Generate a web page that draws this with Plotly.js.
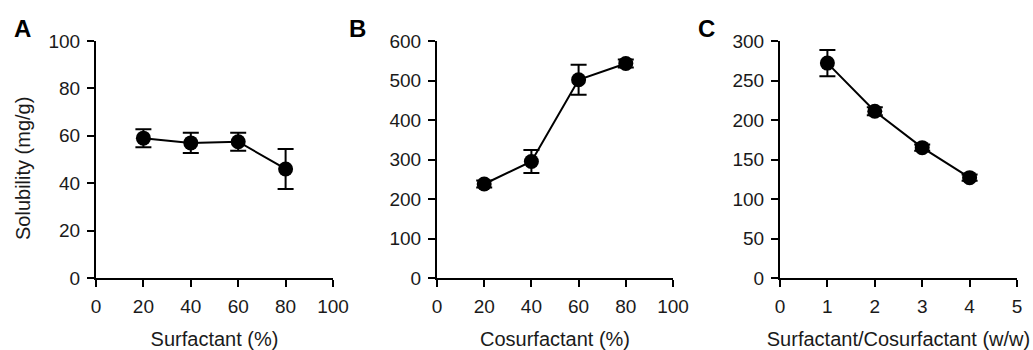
<!DOCTYPE html>
<html>
<head>
<meta charset="utf-8">
<script src="https://cdn.plot.ly/plotly-3.0.1.min.js"></script>
<style>html,body{margin:0;padding:0;background:#fff;}#chart{width:1033px;height:350px;}</style>
</head>
<body>
<div id="chart"></div>
<script>
// Panel A: Surfactant (%)
const surfactantPct = [20, 40, 60, 80];
const solubilityA = [59, 57, 57.5, 46];
const errA = [3.8, 4.3, 3.8, 8.4];
// Panel B: Cosurfactant (%)
const cosurfactantPct = [20, 40, 60, 80];
const solubilityB = [238, 295, 502, 543];
const errB = [9, 29, 38, 10];
// Panel C: Surfactant/Cosurfactant ratio
const ratioSC = [1, 2, 3, 4];
const solubilityC = [272, 211, 165, 127];
const errC = [16.5, 5, 4, 4];

const panelLabels = ['A', 'B', 'C'];
const xTitles = ['Surfactant (%)', 'Cosurfactant (%)', 'Surfactant/Cosurfactant (w/w)'];
const yTitle = 'Solubility (mg/g)';

const FONT = 'Liberation Sans, Arial, sans-serif';

function trace(x, y, e, xa, ya) {
  return {
    x: x, y: y, xaxis: xa, yaxis: ya, type: 'scatter', mode: 'lines+markers',
    line: {color: '#000', width: 2},
    marker: {color: '#000', size: 15, symbol: 'circle'},
    error_y: {type: 'data', array: e, visible: true, color: '#000', thickness: 2, width: 8},
    showlegend: false
  };
}

const data = [
  trace(surfactantPct, solubilityA, errA, 'x', 'y'),
  trace(cosurfactantPct, solubilityB, errB, 'x2', 'y2'),
  trace(ratioSC, solubilityC, errC, 'x3', 'y3')
];

const yDom = [72/350, 309/350];
function xax(dom, range, dtick, title, anchor) {
  return {
    domain: dom, range: range, dtick: dtick, tick0: 0, anchor: anchor,
    showline: true, linecolor: '#000', linewidth: 2, mirror: false,
    ticks: 'outside', ticklen: 7, tickwidth: 2, tickcolor: '#000',
    ticklabelstandoff: 3,
    showgrid: false, zeroline: false,
    tickfont: {family: FONT, size: 19, color: '#1a1a1a'},
    title: {text: title, font: {family: FONT, size: 20, color: '#1a1a1a'}, standoff: 17},
    fixedrange: true
  };
}
function yax(range, dtick, anchor) {
  return {
    domain: yDom, range: range, dtick: dtick, tick0: 0, anchor: anchor,
    showline: true, linecolor: '#000', linewidth: 2,
    ticks: 'outside', ticklen: 7, tickwidth: 2, tickcolor: '#000',
    ticklabelstandoff: 3,
    showgrid: false, zeroline: false,
    tickfont: {family: FONT, size: 19, color: '#1a1a1a'},
    fixedrange: true
  };
}

function label(text, px, py, size, color, bold) {
  return {
    text: bold ? '<b>' + text + '</b>' : text,
    x: px / 1033, y: 1 - py / 350, xref: 'paper', yref: 'paper',
    xanchor: 'center', yanchor: 'middle', showarrow: false,
    font: {family: FONT, size: size, color: color}
  };
}

const yTitleAnn = label(yTitle, 23, 169, 20, '#1a1a1a', false);
yTitleAnn.textangle = -90;

const layout = {
  width: 1033, height: 350,
  margin: {l: 0, r: 0, t: 0, b: 0},
  paper_bgcolor: '#fff', plot_bgcolor: '#fff',
  xaxis: xax([96/1033, 333/1033], [0, 100], 20, xTitles[0], 'y'),
  yaxis: yax([0, 100], 20, 'x'),
  xaxis2: xax([437/1033, 673/1033], [0, 100], 20, xTitles[1], 'y2'),
  yaxis2: yax([0, 600], 100, 'x2'),
  xaxis3: xax([780/1033, 1017/1033], [0, 5], 1, xTitles[2], 'y3'),
  yaxis3: yax([0, 300], 50, 'x3'),
  annotations: [
    yTitleAnn,
    label(panelLabels[0], 22, 29, 24, '#000', true),
    label(panelLabels[1], 357, 29, 24, '#000', true),
    label(panelLabels[2], 706, 29, 24, '#000', true)
  ]
};

Plotly.newPlot('chart', data, layout, {displayModeBar: false, staticPlot: true});
</script>
</body>
</html>
